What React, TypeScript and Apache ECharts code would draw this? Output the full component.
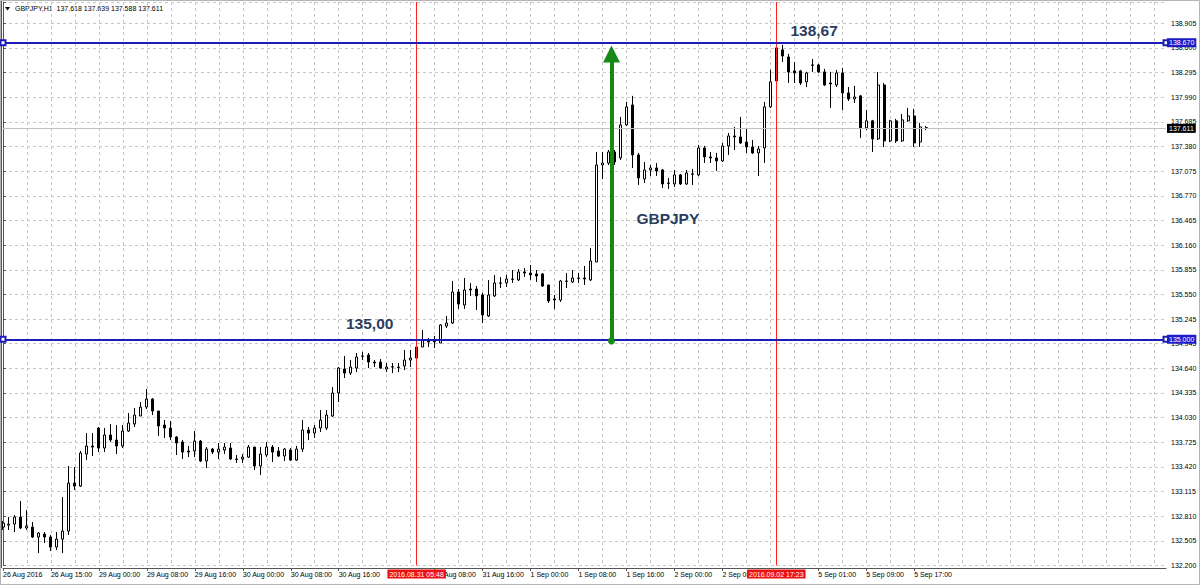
import React, { useEffect, useRef } from 'react';
import * as echarts from 'echarts';

// ---- data ----
const headerText = 'GBPJPY,H1  137.618 137.639 137.588 137.611';

// one row per H1 bar: [open, close, low, high]
const candles: number[][] = [
  [132.676, 132.725, 132.639, 132.750],
  [132.700, 132.713, 132.639, 132.800],
  [132.713, 132.800, 132.614, 132.824],
  [132.800, 132.664, 132.651, 132.998],
  [132.664, 132.688, 132.639, 132.886],
  [132.676, 132.552, 132.540, 132.738],
  [132.552, 132.602, 132.354, 132.614],
  [132.589, 132.552, 132.478, 132.614],
  [132.552, 132.428, 132.379, 132.577],
  [132.428, 132.527, 132.391, 132.614],
  [132.527, 132.626, 132.354, 133.047],
  [132.626, 133.220, 132.577, 133.431],
  [133.220, 133.183, 133.134, 133.419],
  [133.183, 133.592, 133.171, 133.617],
  [133.579, 133.679, 133.505, 133.839],
  [133.679, 133.666, 133.555, 133.839],
  [133.901, 133.654, 133.604, 133.914],
  [133.654, 133.815, 133.604, 133.901],
  [133.815, 133.753, 133.728, 133.951],
  [133.753, 133.679, 133.579, 133.938],
  [133.679, 133.864, 133.654, 133.938],
  [133.864, 133.963, 133.852, 134.087],
  [133.951, 134.062, 133.914, 134.149],
  [134.050, 134.161, 134.050, 134.223],
  [134.161, 134.260, 134.136, 134.384],
  [134.260, 134.112, 134.062, 134.272],
  [134.112, 133.926, 133.802, 134.112],
  [133.939, 133.901, 133.778, 134.000],
  [133.901, 133.790, 133.753, 133.988],
  [133.790, 133.716, 133.567, 133.802],
  [133.728, 133.604, 133.518, 133.753],
  [133.617, 133.604, 133.542, 133.679],
  [133.617, 133.740, 133.542, 133.864],
  [133.740, 133.493, 133.481, 133.753],
  [133.493, 133.641, 133.406, 133.666],
  [133.641, 133.604, 133.579, 133.654],
  [133.604, 133.641, 133.518, 133.716],
  [133.629, 133.666, 133.579, 133.716],
  [133.654, 133.518, 133.505, 133.716],
  [133.518, 133.513, 133.468, 133.567],
  [133.518, 133.542, 133.468, 133.579],
  [133.542, 133.666, 133.530, 133.691],
  [133.666, 133.431, 133.381, 133.666],
  [133.431, 133.579, 133.319, 133.666],
  [133.567, 133.666, 133.542, 133.728],
  [133.666, 133.604, 133.481, 133.691],
  [133.617, 133.555, 133.542, 133.666],
  [133.555, 133.641, 133.493, 133.654],
  [133.629, 133.505, 133.493, 133.654],
  [133.505, 133.641, 133.493, 133.679],
  [133.641, 133.877, 133.604, 134.000],
  [133.877, 133.839, 133.753, 133.914],
  [133.839, 133.901, 133.778, 133.939],
  [133.901, 134.000, 133.852, 134.124],
  [133.901, 134.062, 133.877, 134.124],
  [134.050, 134.335, 134.038, 134.409],
  [134.335, 134.644, 134.223, 134.656],
  [134.632, 134.582, 134.520, 134.793],
  [134.582, 134.656, 134.557, 134.743],
  [134.644, 134.780, 134.594, 134.830],
  [134.793, 134.790, 134.743, 134.842],
  [134.805, 134.718, 134.644, 134.830],
  [134.718, 134.706, 134.656, 134.743],
  [134.718, 134.644, 134.632, 134.755],
  [134.632, 134.656, 134.594, 134.706],
  [134.656, 134.660, 134.582, 134.706],
  [134.656, 134.652, 134.594, 134.706],
  [134.669, 134.743, 134.619, 134.867],
  [134.743, 134.768, 134.656, 134.867],
  [134.768, 134.904, 134.743, 134.929],
  [134.904, 134.991, 134.904, 135.115],
  [134.991, 134.966, 134.904, 135.016],
  [134.978, 134.968, 134.892, 135.041],
  [134.954, 135.177, 134.954, 135.189],
  [135.164, 135.201, 135.139, 135.288],
  [135.201, 135.585, 135.189, 135.721],
  [135.585, 135.436, 135.375, 135.622],
  [135.424, 135.610, 135.375, 135.758],
  [135.622, 135.610, 135.536, 135.696],
  [135.622, 135.536, 135.362, 135.659],
  [135.548, 135.300, 135.201, 135.573],
  [135.288, 135.548, 135.275, 135.733],
  [135.536, 135.697, 135.523, 135.795],
  [135.697, 135.693, 135.635, 135.770],
  [135.697, 135.746, 135.647, 135.795],
  [135.746, 135.742, 135.697, 135.857],
  [135.734, 135.833, 135.721, 135.869],
  [135.833, 135.820, 135.771, 135.882],
  [135.820, 135.796, 135.734, 135.919],
  [135.808, 135.783, 135.709, 135.857],
  [135.808, 135.659, 135.647, 135.820],
  [135.672, 135.474, 135.449, 135.672],
  [135.499, 135.486, 135.375, 135.548],
  [135.486, 135.721, 135.461, 135.734],
  [135.721, 135.717, 135.635, 135.820],
  [135.709, 135.758, 135.697, 135.857],
  [135.758, 135.755, 135.697, 135.820],
  [135.758, 135.746, 135.672, 135.907],
  [135.734, 135.969, 135.721, 136.129],
  [135.956, 137.157, 135.956, 137.318],
  [137.157, 137.181, 136.983, 137.318],
  [137.181, 137.318, 137.157, 137.343],
  [137.318, 137.194, 137.157, 137.343],
  [137.244, 137.653, 137.219, 137.752],
  [137.653, 137.876, 137.640, 137.938],
  [137.900, 137.281, 137.120, 138.012],
  [137.281, 136.996, 136.909, 137.306],
  [136.984, 137.095, 136.934, 137.194],
  [137.095, 137.120, 137.021, 137.157],
  [137.120, 137.083, 137.021, 137.181],
  [137.095, 136.922, 136.872, 137.108],
  [136.934, 136.930, 136.860, 136.996],
  [136.922, 137.034, 136.885, 137.095],
  [137.034, 136.922, 136.909, 137.046],
  [136.922, 137.058, 136.909, 137.095],
  [137.046, 137.042, 136.909, 137.108],
  [137.034, 137.368, 137.021, 137.405],
  [137.368, 137.256, 137.182, 137.392],
  [137.256, 137.244, 137.182, 137.318],
  [137.244, 137.207, 137.083, 137.306],
  [137.207, 137.392, 137.194, 137.430],
  [137.392, 137.516, 137.281, 137.553],
  [137.516, 137.504, 137.343, 137.628],
  [137.504, 137.430, 137.417, 137.752],
  [137.442, 137.380, 137.306, 137.616],
  [137.380, 137.306, 137.293, 137.467],
  [137.306, 137.355, 137.021, 137.392],
  [137.368, 137.876, 137.182, 137.938],
  [137.876, 138.186, 137.863, 138.334],
  [138.197, 138.606, 138.186, 138.668],
  [138.581, 138.507, 138.432, 138.643],
  [138.494, 138.308, 138.172, 138.531],
  [138.321, 138.296, 138.172, 138.432],
  [138.321, 138.172, 138.147, 138.334],
  [138.185, 138.296, 138.122, 138.309],
  [138.395, 138.391, 138.308, 138.469],
  [138.395, 138.309, 138.296, 138.407],
  [138.309, 138.147, 138.135, 138.346],
  [138.172, 138.160, 137.863, 138.309],
  [138.147, 138.296, 138.122, 138.334],
  [138.296, 138.049, 137.838, 138.358],
  [138.049, 137.974, 137.950, 138.122],
  [137.974, 137.999, 137.925, 138.135],
  [138.012, 137.616, 137.492, 138.024],
  [137.616, 137.703, 137.591, 137.838],
  [137.703, 137.480, 137.318, 137.715],
  [137.480, 138.147, 137.467, 138.309],
  [138.147, 137.455, 137.380, 138.172],
  [137.455, 137.703, 137.442, 137.715],
  [137.703, 137.455, 137.430, 137.727],
  [137.455, 137.715, 137.442, 137.789],
  [137.703, 137.764, 137.690, 137.863],
  [137.764, 137.430, 137.380, 137.851],
  [137.442, 137.628, 137.380, 137.678],
  [137.618, 137.611, 137.588, 137.639],
];

const barCount = 195; // visible bar slots, including the empty future area
// time labels that are visible (the ones under the red event boxes are hidden in the picture)
const xTickBars = [0, 8, 16, 24, 32, 40, 48, 56, 72, 80, 88, 96, 104, 112, 120, 136, 144, 152];
const xTickLabels = [
  '26 Aug 2016', '26 Aug 15:00', '29 Aug 00:00', '29 Aug 08:00', '29 Aug 16:00',
  '30 Aug 00:00', '30 Aug 08:00', '30 Aug 16:00', '31 Aug 08:00',
  '31 Aug 16:00', '1 Sep 00:00', '1 Sep 08:00', '1 Sep 16:00', '2 Sep 00:00',
  '2 Sep 08:00', '5 Sep 01:00', '5 Sep 09:00', '5 Sep 17:00',
];
const yTickLabels = [
  '132.200', '132.505', '132.810', '133.115', '133.420', '133.725', '134.030', '134.335',
  '134.640', '134.945', '135.245', '135.550', '135.855', '136.160', '136.465', '136.770',
  '137.075', '137.380', '137.685', '137.990', '138.295', '138.600', '138.905',
];
const yMin = 132.2;
const yMax = 139.174;
const yStep = 0.305;

const levelPrices = [135.0, 138.67];
const levelLabels = ['135.000', '138.670'];
const bidPrice = 137.611;
const bidLabel = '137.611';
const eventBars = [69, 129];
const eventLabels = ['2016.08.31 05:48', '2016.09.02 17:23'];
const arrowBar = 101.5;
const arrowFrom = 134.98;
const arrowTo = 138.53;
const noteTexts = ['138,67', '135,00', 'GBPJPY'];
const noteBars = [135.3, 61.17, 110.9];
const notePrices = [138.817, 135.189, 136.497];

const FONT = "Tahoma, 'Liberation Sans', Arial, sans-serif";

export default function App() {
  const ref = useRef<HTMLDivElement>(null);
  useEffect(() => {
    document.body.style.margin = '0';
    if (!ref.current) return;
    const chart = echarts.init(ref.current, undefined, { renderer: 'svg' });
    const categories = Array.from({ length: barCount }, (_, i) => String(i));
    const gridColor = '#c6c6c6';
    const boxLabel = (text: string, bg: string, position: string, distance: number) => ({
      show: true,
      position,
      distance,
      formatter: text,
      backgroundColor: bg,
      color: '#fff',
      fontSize: 7,
      fontFamily: FONT,
      padding: [1, 2, 1, 2],
    });
    const option: any = {
      animation: false,
      backgroundColor: '#ffffff',
      grid: { left: 2, right: 34, top: 2, bottom: 19.5, containLabel: false },
      xAxis: [
        {
          type: 'category',
          data: categories,
          boundaryGap: false,
          offset: 2.5,
          axisLine: { show: true, lineStyle: { color: '#555', width: 1 } },
          axisTick: {
            show: true,
            length: 3,
            interval: (i: number) => xTickBars.includes(i),
            lineStyle: { color: '#555' },
          },
          axisLabel: {
            show: true,
            interval: (i: number) => xTickBars.includes(i),
            formatter: (_v: string, i: number) => {
              const k = xTickBars.indexOf(i);
              return k >= 0 ? xTickLabels[k] : '';
            },
            align: 'left',
            margin: 3,
            fontSize: 7,
            fontFamily: FONT,
            color: '#000',
          },
          splitLine: {
            show: true,
            interval: (i: number) => i % 4 === 0 && i > 0,
            lineStyle: { color: gridColor, type: [3, 3], width: 1 },
          },
        },
        { type: 'value', min: 0, max: barCount - 1, show: false, splitLine: { show: false } },
      ],
      yAxis: {
        type: 'value',
        position: 'right',
        min: yMin,
        max: yMax,
        interval: yStep,
        axisLine: { show: true, lineStyle: { color: '#555', width: 1 } },
        axisTick: { show: true, length: 3, lineStyle: { color: '#555' } },
        axisLabel: {
          formatter: (_v: number, i: number) => yTickLabels[i] ?? '',
          fontSize: 7,
          fontFamily: FONT,
          color: '#000',
          margin: 5,
        },
        splitLine: { show: true, lineStyle: { color: gridColor, type: [3, 3], width: 1 } },
      },
      series: [
        {
          type: 'candlestick',
          xAxisIndex: 0,
          yAxisIndex: 0,
          data: candles,
          barWidth: 2.5,
          clip: false,
          silent: true,
          itemStyle: {
            color: '#ffffff',
            color0: '#000000',
            borderColor: '#000000',
            borderColor0: '#000000',
            borderWidth: 1,
          },
        },
        // bid line and the two vertical event lines
        {
          type: 'line',
          xAxisIndex: 1,
          yAxisIndex: 0,
          data: [],
          silent: true,
          markLine: {
            silent: true,
            animation: false,
            symbol: ['none', 'none'],
            data: [
              {
                yAxis: bidPrice,
                lineStyle: { color: '#c0c0c0', width: 1, type: 'solid' },
                label: boxLabel(bidLabel, '#000', 'end', 1),
              },
              ...eventBars.map((b, k) => ({
                xAxis: b,
                lineStyle: { color: '#ff2020', width: 1, type: 'solid' },
                label: boxLabel(eventLabels[k], '#ee1111', 'start', 4),
              })),
            ],
          },
        },
        // horizontal price levels
        {
          type: 'line',
          xAxisIndex: 1,
          yAxisIndex: 0,
          data: [],
          silent: true,
          markLine: {
            silent: true,
            animation: false,
            symbol: ['emptyRect', 'emptyRect'],
            symbolSize: 5,
            data: levelPrices.map((p, k) => ({
              yAxis: p,
              lineStyle: { color: '#1c1cb8', width: 2, type: 'solid' },
              label: boxLabel(levelLabels[k], '#1c1cc8', 'end', 1),
            })),
          },
        },
        // green arrow and text notes
        {
          type: 'line',
          xAxisIndex: 1,
          yAxisIndex: 0,
          data: [],
          silent: true,
          markLine: {
            silent: true,
            animation: false,
            lineStyle: { color: '#158a15', width: 4, type: 'solid' },
            label: { show: false },
            data: [
              [
                { coord: [arrowBar, arrowFrom], symbol: 'circle', symbolSize: 7 },
                { coord: [arrowBar, arrowTo], symbol: 'triangle', symbolSize: [17, 17] },
              ],
            ],
          },
          markPoint: {
            silent: true,
            animation: false,
            symbol: 'rect',
            symbolSize: 1,
            itemStyle: { color: 'rgba(0,0,0,0)' },
            label: {
              show: true,
              position: 'inside',
              formatter: '{b}',
              fontSize: 15.5,
              fontWeight: 'bold',
              fontFamily: "'Liberation Sans', Arial, sans-serif",
              color: '#2b3d5e',
            },
            data: noteTexts.map((t, k) => ({ name: t, coord: [noteBars[k], notePrices[k]] })),
          },
        },
      ],
      graphic: [
        {
          type: 'rect',
          shape: { x: 0.5, y: 0.5, width: 1199, height: 584 },
          style: { fill: 'none', stroke: '#b4b4b4', lineWidth: 1 },
          silent: true,
        },
        {
          type: 'line',
          shape: { x1: 1.5, y1: 1, x2: 1.5, y2: 568 },
          style: { stroke: '#555', lineWidth: 1 },
          silent: true,
        },
        {
          type: 'polygon',
          shape: { points: [[5, 7], [10, 7], [7.5, 10.5]] },
          style: { fill: '#000' },
          silent: true,
        },
        {
          type: 'text',
          left: 15,
          top: 5,
          style: { text: headerText, font: `7px ${FONT}`, fill: '#000' },
          silent: true,
        },
      ],
    };
    chart.setOption(option);
    return () => chart.dispose();
  }, []);
  return <div ref={ref} style={{ width: 1200, height: 585 }} />;
}
